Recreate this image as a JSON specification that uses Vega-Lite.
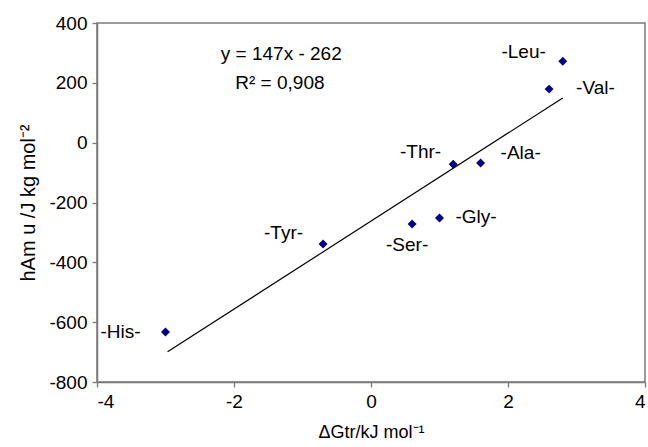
{
  "$schema": "https://vega.github.io/schema/vega-lite/v6.json",
  "autosize": {"type": "none"},
  "padding": {"left": 97, "top": 23, "right": 3, "bottom": 65},
  "width": 548,
  "height": 359,
  "background": "white",
  "config": {
    "font": "Liberation Sans",
    "view": {"stroke": "#7a7a7a", "strokeWidth": 1.5},
    "axis": {
      "grid": false,
      "domainColor": "#7a7a7a",
      "domainWidth": 1.5,
      "tickColor": "#7a7a7a",
      "tickWidth": 1.3,
      "tickSize": 5,
      "labelColor": "black",
      "labelFontSize": 19,
      "labelFont": "Liberation Sans",
      "labelPadding": 5,
      "labelExpr": "toString(datum.value)",
      "titleFont": "Liberation Sans",
      "titleFontSize": 18,
      "titleFontWeight": "normal",
      "titleColor": "black"
    },
    "text": {"font": "Liberation Sans", "fontSize": 19, "color": "black"}
  },
  "datasets": {
    "points": [
      {"aa": "-His-", "dG": -3.0, "h": -633},
      {"aa": "-Tyr-", "dG": -0.7, "h": -339},
      {"aa": "-Ser-", "dG": 0.6, "h": -272},
      {"aa": "-Gly-", "dG": 1.0, "h": -252},
      {"aa": "-Thr-", "dG": 1.2, "h": -72},
      {"aa": "-Ala-", "dG": 1.6, "h": -68},
      {"aa": "-Val-", "dG": 2.6, "h": 179},
      {"aa": "-Leu-", "dG": 2.8, "h": 272}
    ],
    "fit": [
      {"dG": -2.97, "h": -699},
      {"dG": 2.8, "h": 149.6}
    ],
    "eq": [
      {"dG": -1.31, "h": 298, "label": "y = 147x - 262"},
      {"dG": -1.33, "h": 198, "label": "R² = 0,908"}
    ]
  },
  "encoding": {
    "x": {
      "field": "dG", "type": "quantitative",
      "scale": {"domain": [-4, 4], "nice": false, "zero": false},
      "axis": {"values": [-4, -2, 0, 2, 4], "title": "ΔGtr/kJ mol⁻¹", "titleY": 50, "titleBaseline": "middle"}
    },
    "y": {
      "field": "h", "type": "quantitative",
      "scale": {"domain": [-800, 400], "nice": false, "zero": false},
      "axis": {"values": [-800, -600, -400, -200, 0, 200, 400], "title": "hAm u /J kg mol⁻²", "titleFontSize": 20, "titleX": -69, "titleY": 179.5, "titleBaseline": "middle", "titleAlign": "center"}
    }
  },
  "layer": [
    {
      "data": {"name": "fit"},
      "mark": {"type": "line", "color": "black", "strokeWidth": 1.2}
    },
    {
      "data": {"name": "points"},
      "mark": {"type": "point", "shape": "diamond", "filled": true, "color": "#00008b", "size": 80, "opacity": 1}
    },
    {
      "data": {"name": "points"},
      "transform": [{"filter": "datum.aa === '-His-'"}],
      "mark": {"type": "text", "align": "right", "baseline": "middle", "dx": -25, "dy": 0},
      "encoding": {"text": {"field": "aa"}}
    },
    {
      "data": {"name": "points"},
      "transform": [{"filter": "datum.aa === '-Tyr-'"}],
      "mark": {"type": "text", "align": "right", "baseline": "middle", "dx": -20, "dy": -11},
      "encoding": {"text": {"field": "aa"}}
    },
    {
      "data": {"name": "points"},
      "transform": [{"filter": "datum.aa === '-Thr-'"}],
      "mark": {"type": "text", "align": "right", "baseline": "middle", "dx": -12, "dy": -12},
      "encoding": {"text": {"field": "aa"}}
    },
    {
      "data": {"name": "points"},
      "transform": [{"filter": "datum.aa === '-Leu-'"}],
      "mark": {"type": "text", "align": "right", "baseline": "middle", "dx": -17, "dy": -9},
      "encoding": {"text": {"field": "aa"}}
    },
    {
      "data": {"name": "points"},
      "transform": [{"filter": "datum.aa === '-Gly-'"}],
      "mark": {"type": "text", "align": "left", "baseline": "middle", "dx": 16, "dy": -1},
      "encoding": {"text": {"field": "aa"}}
    },
    {
      "data": {"name": "points"},
      "transform": [{"filter": "datum.aa === '-Ala-'"}],
      "mark": {"type": "text", "align": "left", "baseline": "middle", "dx": 20, "dy": -10},
      "encoding": {"text": {"field": "aa"}}
    },
    {
      "data": {"name": "points"},
      "transform": [{"filter": "datum.aa === '-Val-'"}],
      "mark": {"type": "text", "align": "left", "baseline": "middle", "dx": 27, "dy": -1},
      "encoding": {"text": {"field": "aa"}}
    },
    {
      "data": {"name": "points"},
      "transform": [{"filter": "datum.aa === '-Ser-'"}],
      "mark": {"type": "text", "align": "center", "baseline": "middle", "dx": -5, "dy": 21},
      "encoding": {"text": {"field": "aa"}}
    },
    {
      "data": {"name": "eq"},
      "mark": {"type": "text", "align": "center", "baseline": "middle"},
      "encoding": {"text": {"field": "label"}}
    }
  ]
}
